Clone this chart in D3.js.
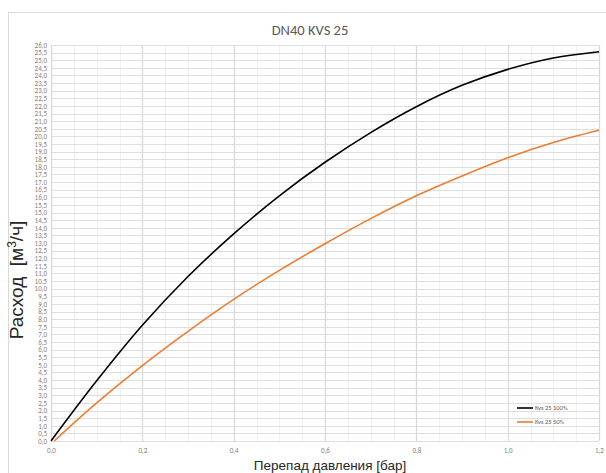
<!DOCTYPE html>
<html><head><meta charset="utf-8">
<script src="https://cdn.jsdelivr.net/npm/d3@7"></script>
<style>body{margin:0;background:#fff;font-family:Calibri,Carlito,"Liberation Sans",Arial,sans-serif;}</style>
</head><body>
<svg id="c" width="606" height="473"></svg>
<script>
const title = "DN40 KVS 25";
const xTitle = "Перепад давления [бар]";
const yTitleA = "Расход  [м";
const xValues = [0, 0.1, 0.2, 0.3, 0.4, 0.5, 0.6, 0.7, 0.8, 0.9, 1.0, 1.1, 1.2];
const kvs100 = [0, 3.95, 7.6, 10.8, 13.6, 16.1, 18.3, 20.25, 21.95, 23.35, 24.4, 25.15, 25.56];
const xValues50 = [0.007, 0.1, 0.2, 0.3, 0.4, 0.5, 0.6, 0.7, 0.8, 0.9, 1.0, 1.1, 1.2];
const kvs50 = [0, 2.5, 4.95, 7.2, 9.3, 11.2, 12.95, 14.6, 16.1, 17.4, 18.6, 19.6, 20.4];
const seriesNames = ["Kvs 25 100%", "Kvs 25 50%"];
const seriesColors = ["#000000", "#ED7D31"];
const xTicks = [0, 0.2, 0.4, 0.6, 0.8, 1.0, 1.2];
const yTicks = d3.range(0, 26.01, 0.5);

const svg = d3.select("#c");
const m = {l: 51, r: 599, t: 45, b: 441};
const x = d3.scaleLinear().domain([0, 1.2]).range([m.l, m.r]);
const y = d3.scaleLinear().domain([0, 26]).range([m.b, m.t]);
const fmt = v => d3.format(".1f")(v).replace(".", ",");

// chart frame
svg.append("rect").attr("x", 8.5).attr("y", 12.5).attr("width", 620).attr("height", 480)
  .attr("fill", "#fff").attr("stroke", "#d9d9d9");

// minor vertical grid
svg.append("g").selectAll("line").data(d3.range(0, 1.2001, 0.05).filter((d,i)=>i%4!==0))
  .join("line").attr("x1", d=>Math.round(x(d))+0.5).attr("x2", d=>Math.round(x(d))+0.5)
  .attr("y1", m.t).attr("y2", m.b).attr("stroke", "#f0f0f0").attr("stroke-width", 1);
// horizontal grid
svg.append("g").selectAll("line").data(yTicks)
  .join("line").attr("x1", m.l).attr("x2", m.r)
  .attr("y1", d=>Math.round(y(d))+0.5).attr("y2", d=>Math.round(y(d))+0.5)
  .attr("stroke", "#dedede").attr("stroke-width", 1);
// major vertical grid
svg.append("g").selectAll("line").data(xTicks)
  .join("line").attr("x1", d=>Math.round(x(d))+0.5).attr("x2", d=>Math.round(x(d))+0.5)
  .attr("y1", m.t).attr("y2", m.b).attr("stroke", "#d9d9d9").attr("stroke-width", 1.3);

// axes labels via d3 axes
const yAxis = d3.axisLeft(y).tickValues(yTicks).tickFormat(fmt).tickSize(0).tickPadding(4);
const gy = svg.append("g").attr("transform", `translate(${m.l},0)`).call(yAxis);
gy.select(".domain").remove();
gy.selectAll("text").attr("fill", "#7f7f7f").style("font-size", "7px")
  .style("font-family", "Calibri,Carlito,'Liberation Sans',Arial,sans-serif");

const xAxis = d3.axisBottom(x).tickValues(xTicks).tickFormat(fmt).tickSize(0).tickPadding(7);
const gx = svg.append("g").attr("transform", `translate(0,${m.b})`).call(xAxis);
gx.select(".domain").remove();
gx.selectAll("text").attr("fill", "#7f7f7f").style("font-size", "7px")
  .style("font-family", "Calibri,Carlito,'Liberation Sans',Arial,sans-serif");

// lines
const line = d3.line().x(d=>x(d[0])).y(d=>y(d[1])).curve(d3.curveCatmullRom.alpha(0.5));
const data100 = xValues.map((v,i)=>[v, kvs100[i]]);
const data50 = xValues50.map((v,i)=>[v, kvs50[i]]);
[data100, data50].forEach((d,i)=>{
  svg.append("path").datum(d).attr("d", line).attr("fill", "none")
    .attr("stroke", seriesColors[i]).attr("stroke-width", 1.6);
});

// title
svg.append("text").attr("x", 310).attr("y", 35).attr("text-anchor", "middle")
  .attr("fill", "#595959").style("font-size", "14.5px").text(title);

// x title
svg.append("text").attr("x", 330).attr("y", 470).attr("text-anchor", "middle")
  .attr("fill", "#262626").style("font-family", "'Liberation Sans',Arial,sans-serif")
  .style("font-size", "13.5px").text(xTitle);

// y title
const yt = svg.append("text").attr("transform", "translate(23,280) rotate(-90)")
  .attr("text-anchor", "middle").attr("fill", "#262626")
  .style("font-family", "'Liberation Sans',Arial,sans-serif").style("font-size", "19px")
  .attr("xml:space", "preserve").style("white-space", "pre");
yt.append("tspan").text(yTitleA);
yt.append("tspan").attr("dy", -7).style("font-size", "12px").text("3");
yt.append("tspan").attr("dy", 7).text("/ч]");

// legend
const lg = svg.append("g");
seriesNames.forEach((n,i)=>{
  const yy = 408 + i*14;
  lg.append("line").attr("x1", 517).attr("x2", 533).attr("y1", yy).attr("y2", yy)
    .attr("stroke", seriesColors[i]).attr("stroke-width", 1.6);
  lg.append("text").attr("x", 535).attr("y", yy + 2.3).attr("fill", "#595959")
    .style("font-size", "6.5px").text(n);
});
</script>
</body></html>
